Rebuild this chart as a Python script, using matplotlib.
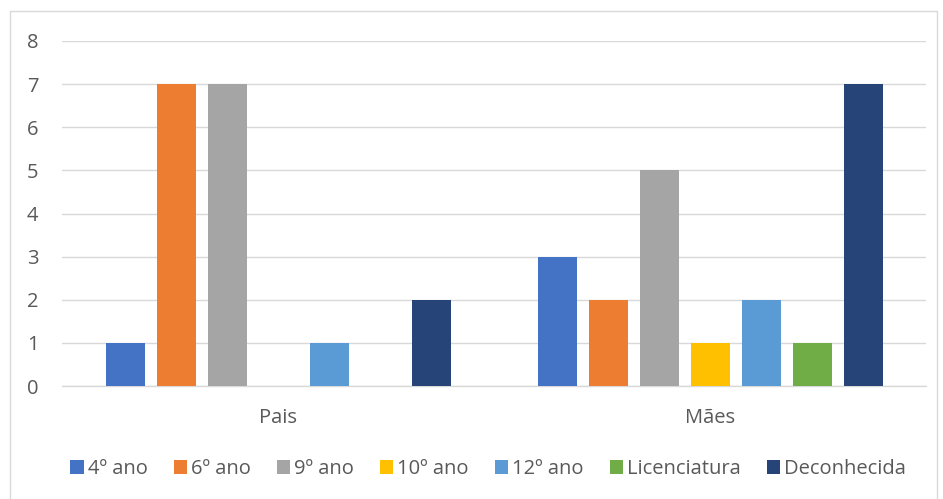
import numpy as np
import matplotlib
matplotlib.use('Agg')
import matplotlib.pyplot as plt
from matplotlib.patches import Rectangle

groups = ['Pais', 'Mães']
series = ['4º ano', '6º ano', '9º ano', '10º ano', '12º ano', 'Licenciatura', 'Deconhecida']
pais = [1, 7, 7, 0, 1, 0, 2]
maes = [3, 2, 5, 1, 2, 1, 7]
colors = ['#4472C4', '#ED7D31', '#A5A5A5', '#FFC000', '#5B9BD5', '#70AD47', '#264478']

plt.rcParams['font.family'] = ['Open Sans', 'DejaVu Sans']

W, H = 943, 499
fig = plt.figure(figsize=(W / 100, H / 100), dpi=100)
ax = fig.add_axes([62 / W, 1 - 386 / H, (926 - 62) / W, (386 - 41) / H])

# chart border
fig.patches.append(Rectangle((10 / W, -0.05), (937 - 10) / W, 1 - 11 / H + 0.05,
                             transform=fig.transFigure, fill=False,
                             edgecolor='#D9D9D9', linewidth=1.0))

x = np.arange(len(groups))
slot = 51 / 432
width = 39 / 432
for i, name in enumerate(series):
    vals = [pais[i], maes[i]]
    ax.bar(x + (i - 3) * slot, vals, width, color=colors[i], label=name, zorder=3)

ax.set_xlim(-0.5, 1.5)
ax.set_ylim(0, 8)
ax.set_yticks(range(0, 9))
ax.set_xticks(x)
ax.set_xticklabels(groups)
ax.grid(axis='y', color='#D9D9D9', linewidth=1.0, zorder=0)
for s in ['top', 'right', 'left']:
    ax.spines[s].set_visible(False)
ax.spines['bottom'].set_color('#D9D9D9')
ax.spines['bottom'].set_linewidth(1.0)
ax.tick_params(length=0, colors='#595959', labelsize=14.5)
ax.tick_params(axis='x', pad=16)
ax.tick_params(axis='y', pad=17)

fig.legend(loc='center', bbox_to_anchor=(488 / W, 1 - 469 / H), ncol=7, frameon=False,
           fontsize=14.5, labelcolor='#595959', handlelength=0.65, handleheight=0.65,
           handletextpad=0.2, columnspacing=1.3)

plt.savefig('out.png', dpi=100)
